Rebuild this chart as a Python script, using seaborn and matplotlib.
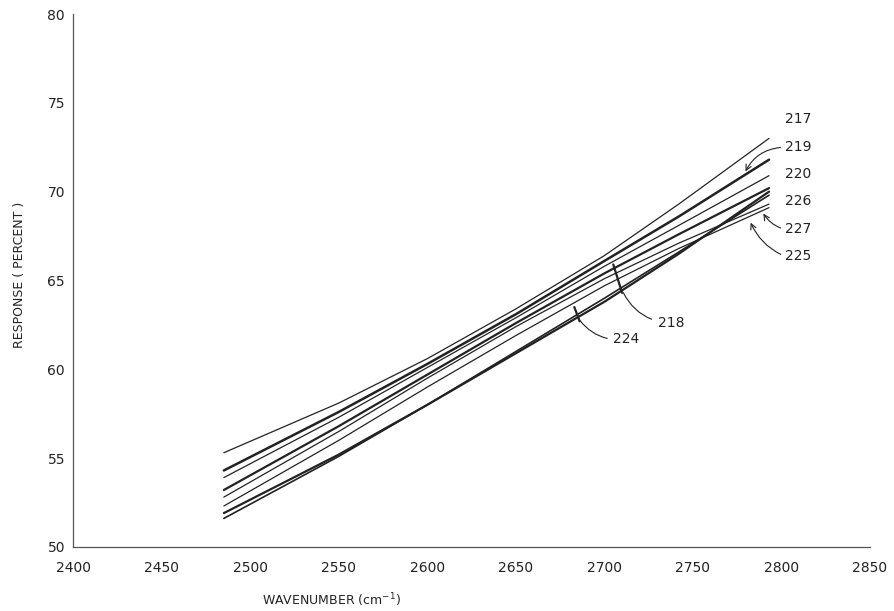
import numpy as np
import pandas as pd
import matplotlib
matplotlib.use("Agg")
import matplotlib.pyplot as plt
import seaborn as sns

# wavenumber points (cm-1)
wavenumber = [2485, 2550, 2600, 2650, 2700, 2742, 2793]

# response (%) per detector
r217 = [55.3, 58.1, 60.6, 63.4, 66.4, 69.3, 73.0]
r219 = [54.3, 57.6, 60.3, 63.1, 66.1, 68.6, 71.8]
r220 = [53.9, 57.3, 60.1, 62.9, 65.8, 68.1, 70.9]
r226 = [53.2, 56.8, 59.7, 62.6, 65.4, 67.6, 70.2]
r227 = [52.8, 56.5, 59.5, 62.4, 65.1, 67.1, 69.3]
r225 = [52.3, 56.0, 59.0, 61.9, 64.7, 66.8, 69.1]
r218 = [51.9, 55.2, 58.0, 60.9, 63.8, 66.5, 70.0]
r224 = [51.6, 55.1, 58.0, 61.0, 64.0, 66.6, 69.8]

series = {"217": r217, "219": r219, "220": r220, "226": r226,
          "227": r227, "225": r225, "218": r218, "224": r224}
widths = {"217": 0.9, "219": 1.8, "220": 0.9, "226": 1.6,
          "227": 0.9, "225": 0.9, "218": 1.6, "224": 1.2}

df = pd.concat([pd.DataFrame({"wavenumber": wavenumber, "response": v, "det": k})
                for k, v in series.items()])

sns.set_style("white")
plt.rcParams["font.family"] = ["DejaVu Sans"]
ink = "#222222"

fig = plt.figure(figsize=(8.95, 6.11), dpi=100)
ax = fig.add_axes([0.082, 0.105, 0.890, 0.872])

for det, sub in df.groupby("det"):
    sns.lineplot(data=sub, x="wavenumber", y="response", ax=ax,
                 color=ink, lw=widths[det], legend=False)

ax.set_xlim(2400, 2850)
ax.set_ylim(50, 80)
ax.set_xticks(range(2400, 2851, 50))
ax.set_yticks(range(50, 81, 5))
ax.set_xlabel("")
ax.set_ylabel("")
for s in ["top", "right"]:
    ax.spines[s].set_visible(False)
for s in ["left", "bottom"]:
    ax.spines[s].set_color("#555555")
    ax.spines[s].set_linewidth(0.9)
ax.tick_params(direction="in", length=9, width=0.9, color="#444444",
               labelsize=10, labelcolor=ink, pad=6)
ax.tick_params(axis="x", pad=10)

# right-hand labels
right_labels = [("217", 74.1), ("219", 72.5), ("220", 71.0),
                ("226", 69.5), ("227", 67.9), ("225", 66.4)]
for name, yv in right_labels:
    ax.text(2802, yv, name, fontsize=10, color=ink, va="center", ha="left")

arrow = dict(arrowstyle="->", color=ink, lw=0.8)
ax.annotate("", xy=(2779, 71.0), xytext=(2801, 72.5),
            arrowprops=dict(arrow, connectionstyle="arc3,rad=0.3"))
ax.annotate("", xy=(2789, 68.9), xytext=(2801, 67.9),
            arrowprops=dict(arrow, connectionstyle="arc3,rad=-0.2"))
ax.annotate("", xy=(2782, 68.4), xytext=(2801, 66.4),
            arrowprops=dict(arrow, connectionstyle="arc3,rad=-0.2"))

# inner labels with leaders
ax.annotate("218", xy=(2710, 64.45), xytext=(2730, 62.6), fontsize=10,
            color=ink, va="center", ha="left",
            arrowprops=dict(arrowstyle="-", color=ink, lw=0.8,
                            connectionstyle="arc3,rad=-0.3"))
ax.plot([2705, 2710], [65.9, 64.3], color=ink, lw=1.6)
ax.annotate("224", xy=(2685, 62.9), xytext=(2705, 61.7), fontsize=10,
            color=ink, va="center", ha="left",
            arrowprops=dict(arrowstyle="-", color=ink, lw=0.8,
                            connectionstyle="arc3,rad=-0.3"))
ax.plot([2683, 2686], [63.5, 62.7], color=ink, lw=1.6)

fig.text(0.022, 0.55, "RESPONSE ( PERCENT )", rotation=90, fontsize=9,
         color=ink, ha="center", va="center")
fig.text(0.37, 0.017, "WAVENUMBER (cm$^{-1}$)", fontsize=9, color=ink,
         ha="center", va="center")

fig.savefig("out.png", dpi=100, facecolor="white")
